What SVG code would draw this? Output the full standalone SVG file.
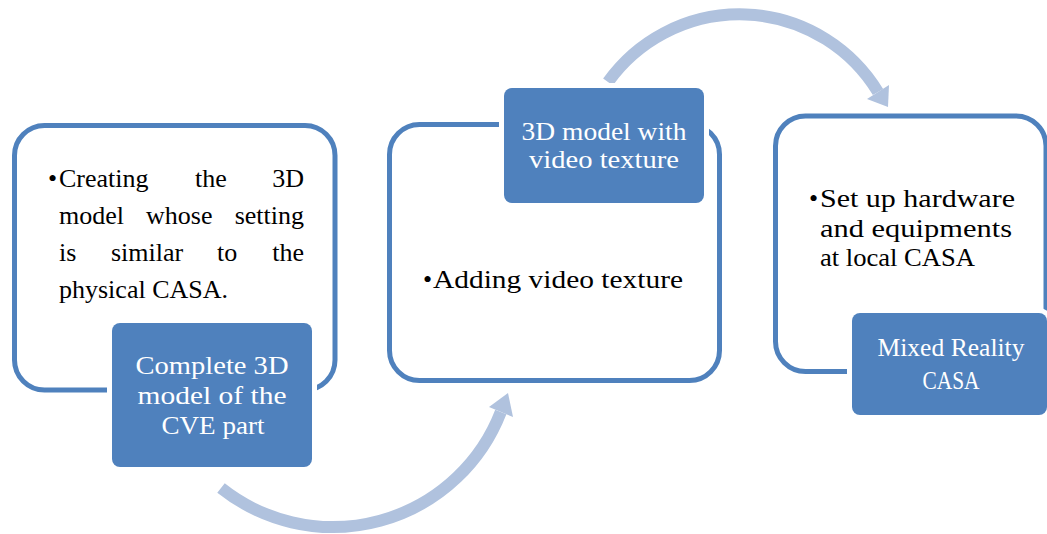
<svg xmlns="http://www.w3.org/2000/svg" width="1047" height="534" viewBox="0 0 1047 534">
<style>
.outline{fill:#fff;stroke:#4F81BD;stroke-width:5}
.tab{fill:#4F81BD;stroke:#fff;stroke-width:10;paint-order:stroke}
.t{font-family:"Liberation Serif","Times New Roman",serif;font-size:26px;fill:#000}
.w{font-family:"Liberation Serif","Times New Roman",serif;font-size:26px;fill:#fff;text-anchor:middle}
.arc{fill:none;stroke:#B0C2DE;stroke-width:12}
.head{fill:#B0C2DE}
</style>
<g id="connectors">
<path class="arc" d="M 221 488 A 180 180 0 0 0 500.8 412"/>
<polygon class="head" points="508,393 513,417 489,407"/>
<path class="arc" d="M 608 82 A 162 162 0 0 1 878 92"/>
<polygon class="head" points="888,107 867,99 889,85"/>
</g>
<g id="node1">
<rect class="outline" x="14.5" y="125.5" width="320.5" height="264.5" rx="30"/>
<text class="t" x="48" y="187">•</text>
<text class="t" x="59" y="187">Creating</text>
<text class="t" x="195" y="187">the</text>
<text class="t" x="304" y="187" text-anchor="end">3D</text>
<text class="t" x="59" y="224">model</text>
<text class="t" x="146" y="224">whose</text>
<text class="t" x="304" y="224" text-anchor="end">setting</text>
<text class="t" x="59" y="261">is</text>
<text class="t" x="111" y="261">similar</text>
<text class="t" x="217" y="261">to</text>
<text class="t" x="304" y="261" text-anchor="end">the</text>
<text class="t" x="59" y="298">physical CASA.</text>
<rect class="tab" x="112" y="323" width="200" height="144" rx="8"/>
<text class="w" x="212" y="374" textLength="153" lengthAdjust="spacingAndGlyphs">Complete 3D</text>
<text class="w" x="212" y="404" textLength="149" lengthAdjust="spacingAndGlyphs">model of the</text>
<text class="w" x="213" y="434" textLength="103" lengthAdjust="spacingAndGlyphs">CVE part</text>
</g>
<g id="node2">
<rect class="outline" x="389.5" y="124.5" width="330" height="256" rx="30"/>
<text class="t" x="423" y="288">•</text>
<text class="t" x="433" y="288" textLength="250" lengthAdjust="spacingAndGlyphs">Adding video texture</text>
<rect class="tab" x="504" y="88" width="200" height="115" rx="8"/>
<text class="w" x="604" y="140" textLength="165" lengthAdjust="spacingAndGlyphs">3D model with</text>
<text class="w" x="604" y="168" textLength="150" lengthAdjust="spacingAndGlyphs">video texture</text>
</g>
<g id="node3">
<rect class="outline" x="775.5" y="116" width="270.5" height="255.5" rx="30"/>
<text class="t" x="809" y="207">•</text>
<text class="t" x="820" y="207" textLength="195" lengthAdjust="spacingAndGlyphs">Set up hardware</text>
<text class="t" x="820" y="237" textLength="192" lengthAdjust="spacingAndGlyphs">and equipments</text>
<text class="t" x="820" y="266" textLength="155" lengthAdjust="spacingAndGlyphs">at local CASA</text>
<rect class="tab" x="852" y="313" width="195" height="102" rx="8"/>
<text class="w" x="951" y="356" textLength="147" lengthAdjust="spacingAndGlyphs">Mixed Reality</text>
<text class="w" x="951" y="389" textLength="57" lengthAdjust="spacingAndGlyphs">CASA</text>
</g>
</svg>
